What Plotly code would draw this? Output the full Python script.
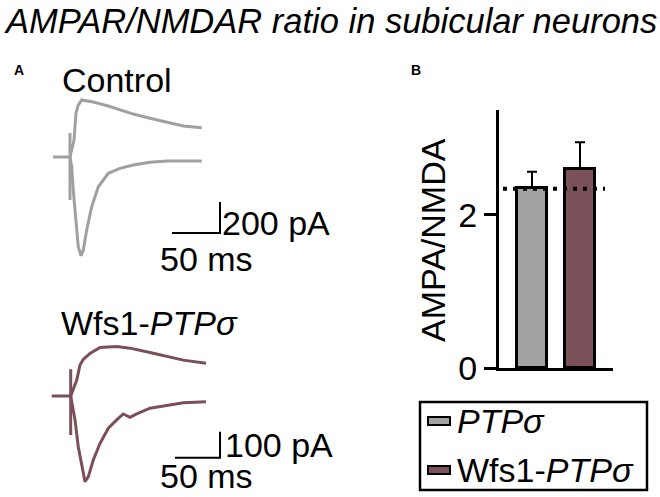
import plotly.graph_objects as go

W, H = 660, 497
FONT = "Liberation Sans, Arial, sans-serif"

# ---------------- data ----------------
# Control traces (time in ms after stimulus, current in pA)
ctrl_base_t = [-17.7, 0.0]
ctrl_base_i = [0, 0]
ctrl_stim_t = [0.0, 0.0]
ctrl_stim_i = [155, -277]
ctrl_nmda_t = [0, 4.2, 6.25, 8.6, 12.2, 22.6, 39.9, 65.9, 83.3, 100.7, 118.0, 137.2]
ctrl_nmda_i = [0, 110, 284, 335, 368, 357, 329, 277, 250, 224, 200, 189]
ctrl_ampa_t = [0, 1.8, 3.4, 6.25, 8.6, 11.5, 13.9, 17.4, 22.6, 29.5, 39.9, 52.1, 65.9, 83.3, 100.7, 118.0, 137.2]
ctrl_ampa_i = [0, -63, -213, -428, -579, -637, -600, -471, -321, -192, -105, -73, -52, -34, -26, -26, -26]
ctrl_scale_t = [106.25, 156.25, 156.25]
ctrl_scale_i = [-490, -490, -290]

# Wfs1-PTPσ traces
wfs_base_t = [-21.1, 0.0]
wfs_base_i = [0, 0]
wfs_stim_t = [0.0, 0.0]
wfs_stim_i = [103, -150]
wfs_nmda_t = [0, 6.7, 10.3, 14.0, 21.4, 32.6, 51.1, 65.9, 88.1, 106.7, 125.1, 150.3]
wfs_nmda_i = [0, 61.5, 119, 141, 164, 187, 190, 184, 167, 151, 138, 126]
wfs_ampa_t = [0, 1.1, 4.8, 8.4, 12.2, 15.9, 19.6, 25.1, 32.6, 41.8, 51.1, 58.4, 65.9, 73.3, 88.1, 106.7, 125.1, 150.3]
wfs_ampa_i = [0, -22, -92, -195, -272, -330, -310, -246, -182, -124, -92, -69, -82, -69, -47, -35, -26, -22]
wfs_scale_t = [115.9, 165.9, 165.9]
wfs_scale_i = [-238, -238, -138]

# Panel B bars
groups = ["PTPσ", "Wfs1-PTPσ"]
group_labels = ["<i>PTPσ</i>", "Wfs1-<i>PTPσ</i>"]
ratio_mean = [2.35, 2.605]
ratio_sem = [0.215, 0.345]
reference_level = 2.34
y_ticks = [0, 2]

GRAY = "#a2a2a2"
MAROON = "#7b525a"
TRACE_GRAY = "#a0a0a0"
TRACE_MAROON = "#7a4f58"


def px(x):
    return x / W


def py(y):
    return 1 - y / H


fig = go.Figure()

line_kw = dict(mode="lines", showlegend=False, hoverinfo="skip")

# Control subplot (x, y)
fig.add_trace(go.Scatter(x=ctrl_base_t, y=ctrl_base_i, line=dict(color=TRACE_GRAY, width=3), xaxis="x", yaxis="y", **line_kw))
fig.add_trace(go.Scatter(x=ctrl_stim_t, y=ctrl_stim_i, line=dict(color=TRACE_GRAY, width=3), xaxis="x", yaxis="y", **line_kw))
fig.add_trace(go.Scatter(x=ctrl_nmda_t, y=ctrl_nmda_i, line=dict(color=TRACE_GRAY, width=3), xaxis="x", yaxis="y", **line_kw))
fig.add_trace(go.Scatter(x=ctrl_ampa_t, y=ctrl_ampa_i, line=dict(color=TRACE_GRAY, width=3), xaxis="x", yaxis="y", **line_kw))
fig.add_trace(go.Scatter(x=ctrl_scale_t, y=ctrl_scale_i, line=dict(color="black", width=2), xaxis="x", yaxis="y", **line_kw))

# Wfs1 subplot (x2, y2)
fig.add_trace(go.Scatter(x=wfs_base_t, y=wfs_base_i, line=dict(color=TRACE_MAROON, width=3), xaxis="x2", yaxis="y2", **line_kw))
fig.add_trace(go.Scatter(x=wfs_stim_t, y=wfs_stim_i, line=dict(color=TRACE_MAROON, width=3), xaxis="x2", yaxis="y2", **line_kw))
fig.add_trace(go.Scatter(x=wfs_nmda_t, y=wfs_nmda_i, line=dict(color=TRACE_MAROON, width=3), xaxis="x2", yaxis="y2", **line_kw))
fig.add_trace(go.Scatter(x=wfs_ampa_t, y=wfs_ampa_i, line=dict(color=TRACE_MAROON, width=3), xaxis="x2", yaxis="y2", **line_kw))
fig.add_trace(go.Scatter(x=wfs_scale_t, y=wfs_scale_i, line=dict(color="black", width=2), xaxis="x2", yaxis="y2", **line_kw))

# Bars (x3, y3)
bar_colors = [GRAY, MAROON]
for g, m, e, c in zip(groups, ratio_mean, ratio_sem, bar_colors):
    fig.add_trace(go.Bar(
        x=[g], y=[m], name=g, width=0.625,
        marker=dict(color=c, line=dict(color="black", width=3)),
        error_y=dict(type="data", symmetric=False, array=[e], arrayminus=[0],
                     color="black", thickness=2, width=5),
        xaxis="x3", yaxis="y3", showlegend=False,
    ))

hidden = dict(visible=False, fixedrange=True, automargin=False)
fig.update_layout(
    width=W, height=H,
    margin=dict(l=0, r=0, t=0, b=0, pad=0, autoexpand=False),
    paper_bgcolor="white", plot_bgcolor="white",
    font=dict(family=FONT, size=34, color="black"),
    xaxis=dict(domain=[px(40), px(340)], range=[-31.25, 281.25], anchor="y", **hidden),
    yaxis=dict(domain=[py(280), py(60)], range=[-793.5, 625.8], anchor="x", **hidden),
    xaxis2=dict(domain=[px(40), px(340)], range=[-34.11, 299.2], anchor="y2", **hidden),
    yaxis2=dict(domain=[0, py(290)], range=[-388.5, 407.7], anchor="x2", **hidden),
    xaxis3=dict(domain=[px(499), px(613)], range=[-0.6875, 1.6875], anchor="y3",
                type="category", showline=True, linecolor="black", linewidth=3,
                showticklabels=False, ticks="", showgrid=False, zeroline=False,
                fixedrange=True, automargin=False),
    yaxis3=dict(domain=[py(368), py(110)], range=[0, 3.37], anchor="x3",
                showline=True, linecolor="black", linewidth=3,
                ticks="outside", ticklen=12, tickwidth=3, tickcolor="black",
                tickvals=y_ticks, ticktext=[str(v) for v in y_ticks],
                tickfont=dict(size=34, family=FONT), showgrid=False, zeroline=False,
                fixedrange=True, automargin=False),
    showlegend=False,
    bargap=0,
)

# reference dotted line in panel B
fig.add_shape(type="line", xref="x3 domain", yref="y3",
              x0=(503 - 499) / 114, x1=(605 - 499) / 114,
              y0=reference_level, y1=reference_level,
              line=dict(color="black", width=4, dash="4px,6px"))

# manual legend
fig.add_shape(type="rect", xref="paper", yref="paper",
              x0=px(420), x1=px(647), y0=py(490), y1=py(402),
              line=dict(color="black", width=2.5), fillcolor="rgba(0,0,0,0)")
legend_rows = [421, 470]
for lab, c, yy in zip(group_labels, bar_colors, legend_rows):
    fig.add_shape(type="rect", xref="paper", yref="paper",
                  x0=px(428), x1=px(450), y0=py(yy + 4), y1=py(yy - 4),
                  line=dict(color="black", width=2), fillcolor=c)
    fig.add_annotation(text=lab, xref="paper", yref="paper", x=px(456), y=py(yy),
                       xanchor="left", yanchor="middle", showarrow=False,
                       borderpad=0, font=dict(size=34, family=FONT))


def txt(text, x, y, size=34, xanchor="center", bold=False, angle=0):
    fig.add_annotation(text=f"<b>{text}</b>" if bold else text,
                       xref="paper", yref="paper", x=px(x), y=py(y),
                       xanchor=xanchor, yanchor="middle", showarrow=False,
                       borderpad=0, textangle=angle,
                       font=dict(size=size, family=FONT))


txt("<i>AMPAR/NMDAR ratio in subicular neurons</i>", 330, 21, size=34.5)
txt("A", 19, 70, size=14, bold=True)
txt("B", 416, 70, size=14, bold=True)
txt("Control", 117, 80)
txt("200 pA", 221, 223, xanchor="left")
txt("50 ms", 159, 259, xanchor="left")
txt("Wfs1-<i>PTPσ</i>", 60, 323, xanchor="left")
txt("100 pA", 224, 445, xanchor="left")
txt("50 ms", 159, 476, xanchor="left")
txt("AMPA/NMDA", 433, 240, angle=-90)

post = (
    "document.documentElement.style.margin='0px';"
    "document.body.style.margin='0px';"
    "document.body.style.overflow='hidden';"
)
fig.write_html("out.html", config={"displayModeBar": False, "responsive": False},
               post_script=post)
